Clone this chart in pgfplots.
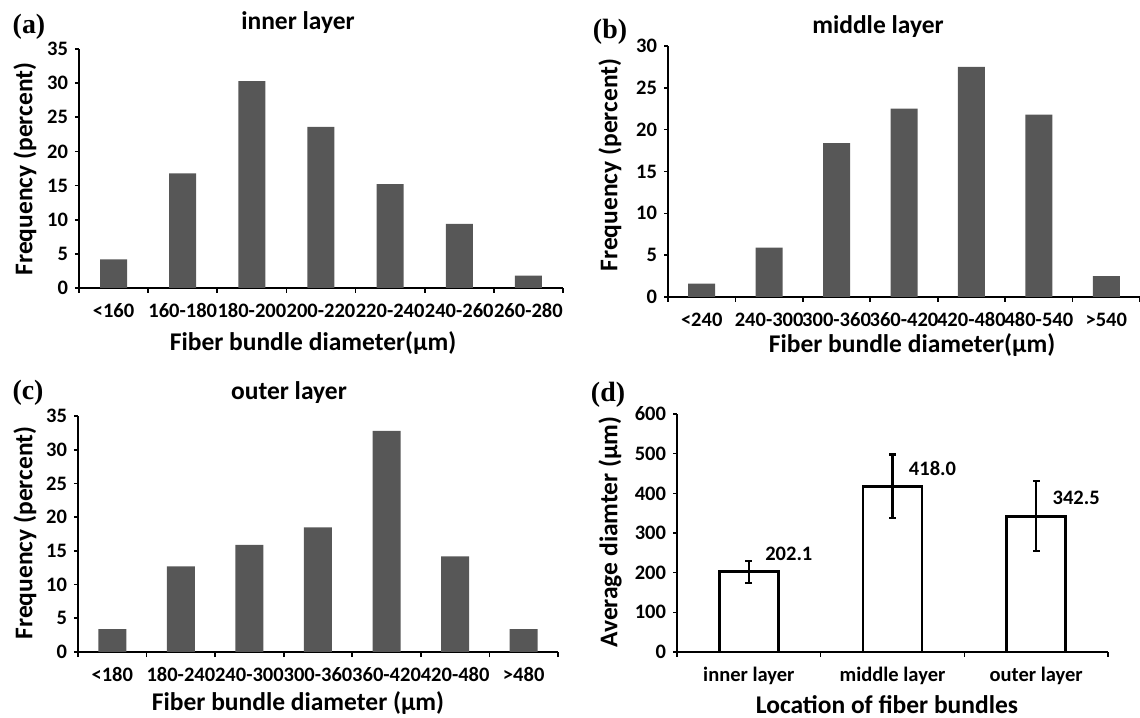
\documentclass[border=0pt]{standalone}
\usepackage{pgfplots}
\pgfplotsset{compat=1.18}
\usepackage{fontspec}
\setmainfont{Carlito}
\newfontfamily\letterfont{Liberation Serif}
\definecolor{bargray}{RGB}{87,87,87}

\pgfplotsset{
  panel/.style={
    scale only axis, anchor=south west,
    axis lines=left,
    axis line style={-, line width=0.95bp},
    tick align=outside,
    tick style={black, line width=0.8bp},
    major tick length=2bp,
    minor tick length=2.5bp,
    major x tick style={draw=none},
    enlarge x limits=false,
    ymin=0,
    /pgf/number format/assume math mode=true,
    yticklabel style={font=\bfseries\fontsize{10.3}{12}\selectfont},
    xticklabel style={font=\bfseries\fontsize{10.3}{12}\selectfont,
      text height=6.6bp, text depth=0bp, yshift=-2.5bp},
  },
  histo/.style={
    panel, ybar,
    xmin=-0.5, xmax=6.5,
    xtick={0,...,6},
    minor xtick={-0.5,0.5,...,6.5},
  },
}

\begin{document}
\begin{tikzpicture}
\useasboundingbox (0,0) rectangle (570bp,359bp);

% (a) inner layer
\begin{axis}[histo, at={(39.5bp,215bp)}, width=242bp, height=119.5bp,
  ymax=35, ytick={0,5,...,35}, bar width=13.5bp,
  xticklabels={<160,160-180,180-200,200-220,220-240,240-260,260-280}]
\addplot[fill=bargray, draw=none] coordinates {(0,4.2) (1,16.8) (2,30.3) (3,23.6) (4,15.2) (5,9.4) (6,1.8)};
\end{axis}

% (b) middle layer
\begin{axis}[histo, at={(334bp,210.5bp)}, width=236bp, height=125.5bp,
  ymax=30, ytick={0,5,...,30}, bar width=13.5bp,
  xticklabels={<240,240-300,300-360,360-420,420-480,480-540,>540}]
\addplot[fill=bargray, draw=none] coordinates {(0,1.6) (1,5.9) (2,18.4) (3,22.5) (4,27.5) (5,21.8) (6,2.5)};
\end{axis}

% (c) outer layer
\begin{axis}[histo, at={(39bp,33bp)}, width=240bp, height=118bp,
  ymax=35, ytick={0,5,...,35}, bar width=14bp,
  xticklabels={<180,180-240,240-300,300-360,360-420,420-480,>480}]
\addplot[fill=bargray, draw=none] coordinates {(0,3.4) (1,12.7) (2,15.9) (3,18.5) (4,32.8) (5,14.2) (6,3.4)};
\end{axis}

% (d) average diameter
\begin{axis}[panel, ybar, at={(338.5bp,33bp)}, width=215.5bp, height=119bp,
  xmin=-0.5, xmax=2.5, xtick={0,1,2}, minor xtick={-0.5,0.5,1.5,2.5},
  ymax=600, ytick={0,100,...,600}, bar width=29.5bp,
  xticklabels={inner layer,middle layer,outer layer},
  point meta=explicit symbolic,
  nodes near coords,
  nodes near coords style={font=\bfseries\fontsize{10.3}{12}\selectfont,
    anchor=center, xshift=20bp, yshift=9bp, black}]
\addplot[fill=white, draw=black, line width=1.4bp,
  error bars/.cd, y dir=both, y explicit,
  error bar style={line width=1.1bp, black},
  error mark options={rotate=90, mark size=1.7bp, line width=1.1bp, black}]
  table[x=x, y=y, y error=err, meta=lab] {
x y err lab
0 202.1 28 202.1
1 418.0 80 418.0
2 342.5 88 342.5
};
\end{axis}

% panel letters
\begin{scope}[every node/.style={font=\letterfont\bfseries\fontsize{14}{16}\selectfont}]
\node at (14.5bp,345.5bp) {(a)};
\node at (305bp,343bp) {(b)};
\node at (14bp,162.5bp) {(c)};
\node at (304bp,161.5bp) {(d)};
\end{scope}

% titles and axis labels
\begin{scope}[every node/.style={font=\bfseries\fontsize{12.8}{15}\selectfont}]
\node at (149bp,347.5bp) {inner layer};
\node at (439bp,345.5bp) {middle layer};
\node at (144.5bp,162.5bp) {outer layer};
\node[rotate=90] at (12.5bp,274.5bp) {Frequency (percent)};
\node[rotate=90] at (305bp,276.5bp) {Frequency (percent)};
\node[rotate=90] at (12.5bp,92.5bp) {Frequency (percent)};
\node[rotate=90] at (305bp,93bp) {Average diamter (µm)};
\node at (156.5bp,187.5bp) {Fiber bundle diameter(µm)};
\node at (456bp,186.5bp) {Fiber bundle diameter(µm)};
\node at (149bp,7.5bp) {Fiber bundle diameter (µm)};
\node at (443.5bp,6.5bp) {Location of fiber bundles};
\end{scope}
\end{tikzpicture}
\end{document}
